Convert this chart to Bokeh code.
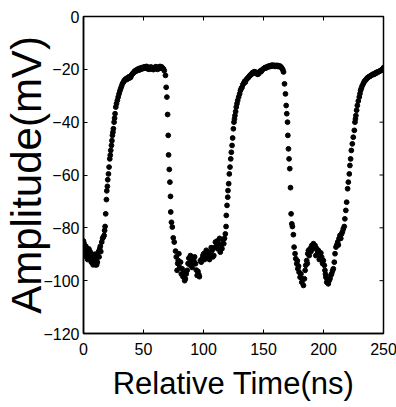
import math
from bokeh.plotting import figure
from bokeh.models import Range1d, FixedTicker
from bokeh.embed import file_html
from bokeh.resources import INLINE

# ---- data (time in ns, amplitude in mV) ----
low1 = [(0, -85), (0.5, -86), (1, -88), (1.5, -90), (2, -87), (2.5, -91), (3, -89), (3.5, -92),
        (4, -90), (4.5, -88), (5, -91), (5.5, -89), (6, -92), (6.5, -93), (7, -90), (7.5, -91),
        (8, -94), (8.5, -92), (9, -93), (9.5, -90), (10, -94), (10.5, -92), (11, -94), (11.5, -93),
        (12, -91), (12.5, -89), (13, -91), (13.5, -88), (14, -87), (14.4, -89), (15.2, -85.4),
        (15.9, -84), (16.5, -83.5), (17.2, -82.9), (17.6, -81), (18, -79.5), (18.5, -74.7),
        (19.1, -69.3), (19.4, -66), (19.9, -64.3), (20.2, -61.8)]
rise1 = [(20.8, -59.6), (21.3, -57), (21.9, -53.9), (22.3, -52.5), (22.7, -50.7), (23.3, -48.8),
         (23.7, -47), (24.1, -45), (24.5, -43.8), (24.9, -42.5), (25.5, -40), (25.9, -38.5),
         (26.3, -36.8), (26.9, -34.3), (27.5, -33), (28.2, -31.8), (28.9, -30.5), (29.6, -29.3),
         (30.3, -28.2), (31, -27.3), (31.7, -26.4), (32.4, -25.5), (33.1, -25), (33.8, -24.3),
         (34.5, -24), (35.2, -23.6), (35.9, -23.9), (36.6, -23.2), (37.3, -23.5), (38, -22.8),
         (38.7, -23.2), (39.3, -23), (40, -22.2), (40.7, -21.7)]
top1 = [(41.4, -21.5), (42.1, -21), (42.8, -20.6), (43.5, -20.8), (44.2, -20.2), (44.9, -20.4),
        (45.6, -19.8), (46.3, -20.3), (47, -19.6), (47.7, -20), (48.4, -19.4), (49.1, -19.8),
        (49.8, -19.2), (50.5, -19.6), (51.2, -19), (51.9, -19.5), (52.6, -18.9), (53.3, -19.8),
        (54, -19.3), (54.7, -20), (55.4, -19.5), (56.1, -19.1), (56.8, -19.9), (57.5, -19.4),
        (58.2, -20.1), (58.9, -19.3), (59.6, -19.8), (60.3, -19), (61, -19.6), (61.7, -20),
        (62.4, -19.2), (63.1, -19.7), (63.8, -18.9), (64.5, -19.5), (65.2, -19.1), (65.9, -19.6),
        (66.6, -19.8), (67.3, -20.5)]
fall1 = [(68.3, -22.3), (68.9, -26.8), (69.5, -30.5), (70.1, -37.1), (70.6, -45), (70.9, -52.4),
         (71.5, -57.9), (72, -62.7), (72.5, -68.1), (72.7, -74), (73.3, -77.9), (74, -79.7),
         (74.8, -83.8), (75.6, -85.4), (76.7, -88.8)]
low2 = [(77.3, -91), (78, -96.1), (78.5, -93.5), (79, -92.4), (79.5, -89.8), (80.1, -95),
        (80.9, -93), (81.5, -97.5), (82.2, -95.5), (82.9, -98.5), (83.6, -96.8), (84.3, -100),
        (84.9, -99.3), (85.6, -97.5), (86.4, -96.1), (87.1, -93.5), (87.8, -91.5), (88.5, -94),
        (89.1, -90.5), (89.8, -92.5), (90.5, -95), (91.2, -93.5), (91.9, -92.4), (92.6, -91),
        (93.3, -93.6), (94, -96), (94.7, -98), (95.4, -96.5), (96.1, -97.7), (96.6, -98.5),
        (97.4, -92.4), (98.1, -93), (98.8, -91.7), (99.5, -90.5), (100.2, -89.8), (100.9, -92),
        (101.6, -90.5), (102.3, -88.5), (103, -89.2), (103.7, -91), (104.4, -89.5), (105, -92),
        (105.7, -90.5), (106.4, -87.5), (107.1, -88.6), (107.8, -91), (108.6, -90.5),
        (109.2, -87.5), (109.9, -85.4), (110.6, -87), (111.3, -85), (112, -88), (112.7, -86),
        (113.4, -84), (114, -89.2), (114.7, -86.5), (115.4, -87.9), (116.1, -84.5), (116.9, -86),
        (117.5, -84), (118.2, -82.3), (118.8, -79.5), (119, -75.3), (119.6, -71.5), (120.2, -68.4)]
rise2 = [(120.4, -65.9), (121, -63.3), (121.5, -59.6), (122.1, -57), (122.7, -53.9), (123.2, -51.4),
         (123.8, -48.8), (124.3, -46), (124.9, -42.5), (125.4, -40), (125.8, -38.8), (126.2, -37.5),
         (126.8, -36), (127.3, -34.3), (127.9, -33), (128.5, -31.8), (129.3, -30.5), (130.1, -29.3),
         (130.8, -28), (131.5, -27.2), (132.1, -26.8), (132.8, -25.8), (133.5, -25.3),
         (134.2, -24.6), (134.8, -24.9), (135.5, -24), (136.2, -23.6), (136.9, -23.3),
         (137.6, -23), (138.3, -22.5), (139, -22.3), (139.7, -21.8), (140.3, -21.7)]
top2 = [(141, -21.2), (141.7, -21.5), (142.4, -20.9), (143.1, -21), (143.8, -21.6), (144.5, -21.3),
        (145.2, -21.9), (145.9, -21.7), (146.6, -21), (147.3, -20.6), (148, -20.9), (148.6, -20.4),
        (149.3, -20), (150, -19.8), (150.7, -19.6), (151.4, -19.3), (152.1, -19.5), (152.8, -19.2),
        (153.5, -18.9), (154.2, -19.1), (154.9, -18.7), (155.6, -18.9), (156.3, -18.5),
        (156.9, -18.8), (157.6, -18.4), (158.3, -18.7), (159, -18.5), (159.7, -18.9),
        (160.4, -18.6), (161.1, -18.5), (161.8, -18.9), (162.5, -18.6), (163.2, -19),
        (163.9, -18.8), (164.7, -19.2), (165.4, -19.6), (166.1, -20.2), (166.7, -21)]
fall2 = [(167.5, -25.5), (168.3, -29.3), (168.9, -33.7), (169.4, -36.8), (170, -40), (170.3, -45),
         (170.8, -50.1), (171.3, -53.9), (171.9, -57.6), (172.5, -64.8), (173, -74.7),
         (173.6, -78.5), (174.1, -79.5), (174.9, -82.6)]
low3 = [(175.5, -87.3), (176.3, -89.8), (176.9, -91.7), (177.7, -93.6), (178.2, -92.5),
        (178.6, -95.5), (179.2, -94.5), (179.7, -96.8), (180.5, -98.7), (181.2, -97.5),
        (181.9, -100.6), (182.6, -99.5), (183.3, -101.8), (184.1, -99.3), (184.7, -96.1),
        (185.2, -94.2), (186, -92.4), (186.5, -93.5), (186.9, -89.8), (187.4, -88.6),
        (188.1, -90.5), (188.8, -87.9), (189.5, -89), (190.2, -86.7), (190.9, -88), (191.6, -86),
        (192.3, -87.3), (193, -86.7), (193.6, -90.5), (194.4, -87.9), (195.1, -89), (195.8, -88.6),
        (196.5, -92), (197.1, -90.5), (197.8, -89.5), (198.5, -91.1), (199.2, -93.5),
        (199.9, -92.4), (200.7, -94.2), (201.2, -96.1), (201.6, -97.5), (202, -98.7),
        (202.7, -100.6), (203.3, -99.5), (204, -101.2), (204.7, -100), (205.4, -99.3),
        (206.1, -98), (206.8, -97.4), (207.5, -96.3), (208.2, -95.5), (209, -93), (209.6, -89.8),
        (210.4, -87.3), (211.1, -86.5), (211.8, -85.4), (212.4, -86.5), (212.9, -84.1),
        (213.7, -82.9), (214.4, -84), (215.1, -82.3), (215.8, -81.5), (216.5, -80.4),
        (217.3, -79.5), (217.8, -76.6), (218.6, -73.4), (219.3, -70.3)]
rise3 = [(220.1, -65.2), (220.7, -62.7), (221.5, -59.6), (222, -56.4), (222.6, -53.9),
         (223.2, -50.7), (224, -48.2), (224.8, -45.7), (225.7, -43.1), (226.2, -40), (226.6, -38.8),
         (227, -37.5), (227.6, -35.5), (228.2, -33.7), (229, -32), (229.8, -30.5), (230.4, -29.2),
         (230.9, -28), (231.5, -27.2), (232.2, -26.3), (233.1, -25.5), (233.8, -24.8),
         (234.5, -24.3), (235.2, -24), (235.9, -23.6), (236.6, -23.2), (237.3, -23), (238, -22.8),
         (238.7, -22.6), (239.4, -22.4), (240, -22.3), (240.7, -22), (241.4, -21.8),
         (242.1, -21.9), (242.8, -21.7), (243.5, -21.3), (244.2, -21.4), (244.9, -21), (245.6, -21),
         (246.3, -20.8), (247, -20.6), (247.7, -20.4), (248.3, -20.4), (249, -20), (249.7, -19.7),
         (250, -19.4)]

x_ticks = [0, 50, 100, 150, 200, 250]
y_ticks = [-120, -100, -80, -60, -40, -20, 0]
x_label = "Relative Time(ns)"
y_label = "Amplitude(mV)"

points = low1 + rise1 + top1 + fall1 + low2 + rise2 + top2 + fall2 + low3 + rise3
time_ns = [pt[0] for pt in points]
amp_mv = [pt[1] for pt in points]

FONT = "Liberation Sans"
X_MIN, X_MAX = x_ticks[0], x_ticks[-1]
Y_MIN, Y_MAX = y_ticks[0], y_ticks[-1]

p = figure(frame_width=300, frame_height=317, output_backend="svg", toolbar_location=None,
           x_range=Range1d(X_MIN, X_MAX), y_range=Range1d(Y_MIN, Y_MAX),
           min_border_left=73, min_border_top=16, min_border_right=15, min_border_bottom=74)
p.background_fill_color = "white"
p.border_fill_color = "white"
p.grid.visible = False
p.outline_line_color = "black"
p.outline_line_width = 1.5

p.scatter(time_ns, amp_mv, size=4.8, color="black")

# mirrored inward ticks on the top and right edges (half of each dash is clipped by the frame)
p.scatter(x_ticks, [Y_MAX] * len(x_ticks), marker="dash", size=8, angle=math.pi / 2,
          line_color="black", line_width=1)
p.scatter([X_MAX] * len(y_ticks), y_ticks, marker="dash", size=8,
          line_color="black", line_width=1)

for ax, ticks in ((p.xaxis[0], x_ticks), (p.yaxis[0], y_ticks)):
    ax.ticker = FixedTicker(ticks=ticks)
    ax.major_tick_in = 4
    ax.major_tick_out = 0
    ax.minor_tick_line_color = None
    ax.major_tick_line_color = "black"
    ax.major_tick_line_width = 1
    ax.axis_line_color = "black"
    ax.axis_line_width = 1.5
    ax.major_label_text_font = FONT
    ax.major_label_text_font_size = "16px"
    ax.major_label_text_color = "black"
    ax.axis_label_text_font = FONT
    ax.axis_label_text_font_style = "normal"
    ax.axis_label_text_color = "black"

p.xaxis[0].major_label_standoff = 9
p.xaxis[0].axis_label = x_label
p.xaxis[0].axis_label_text_font_size = "31px"
p.xaxis[0].axis_label_standoff = 8

p.yaxis[0].major_label_standoff = 4
p.yaxis[0].axis_label = y_label
p.yaxis[0].axis_label_text_font_size = "42px"
p.yaxis[0].axis_label_standoff = -10

open("out.html", "w").write(file_html(p, INLINE))
